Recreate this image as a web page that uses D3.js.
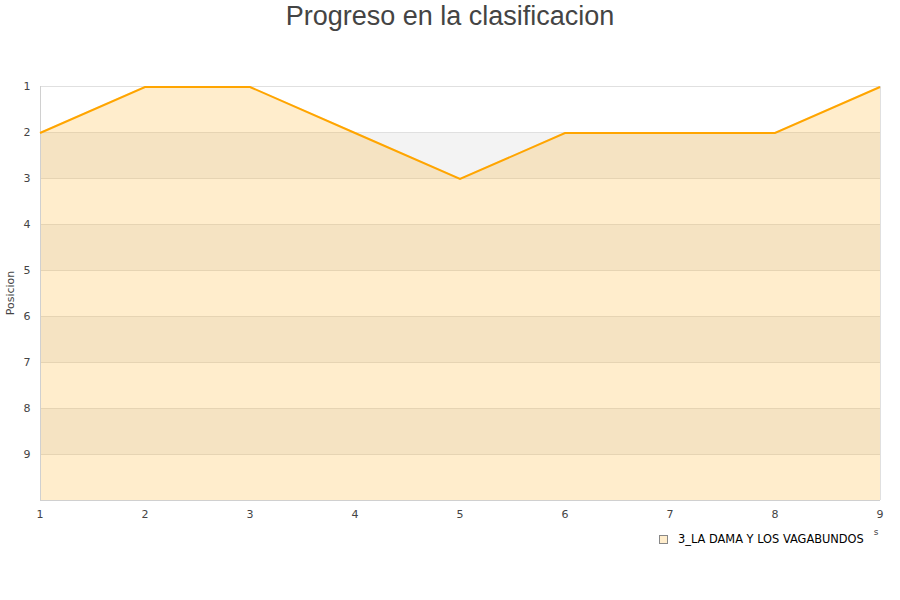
<!DOCTYPE html>
<html><head><meta charset="utf-8">
<script src="https://cdn.jsdelivr.net/npm/d3@7"></script>
<style>body{margin:0;background:#fff;font-family:"DejaVu Sans",sans-serif;}</style>
</head><body><svg id="c" width="900" height="600"></svg>
<script>
const jornadas = [1,2,3,4,5,6,7,8,9];
const posiciones = [2,1,1,2,3,2,2,2,1];
const yTicks = [1,2,3,4,5,6,7,8,9];
const seriesName = "3_LA DAMA Y LOS VAGABUNDOS";
const title = "Progreso en la clasificacion";
const yTitle = "Posicion";

const svg = d3.select("#c");
const L=40,R=880,T=86,B=500;
const x = d3.scaleLinear().domain([1,9]).range([L,R]);
const y = d3.scaleLinear().domain([1,10]).range([T,B]);

// bands
const bands = [2,4,6,8];
svg.selectAll("rect.band").data(bands).enter().append("rect")
  .attr("x",L).attr("width",R-L).attr("y",d=>y(d)).attr("height",d=>y(d+1)-y(d))
  .attr("fill","#f3f3f3");
// grid
svg.selectAll("line.grid").data(d3.range(1,11)).enter().append("line")
  .attr("x1",L).attr("x2",R).attr("y1",d=>y(d)+0.5).attr("y2",d=>y(d)+0.5)
  .attr("stroke","#e0e0e0").attr("stroke-width",1);

const data = jornadas.map((j,i)=>({j,p:posiciones[i]}));
svg.append("path").datum(data)
  .attr("d",d3.area().x(d=>x(d.j)).y0(y(10)).y1(d=>y(d.p)))
  .attr("fill","rgba(255,165,0,0.2)");
// border
svg.append("line").attr("x1",L+0.5).attr("x2",L+0.5).attr("y1",T).attr("y2",B).attr("stroke","#d0d0d0");
svg.append("line").attr("x1",R+0.5).attr("x2",R+0.5).attr("y1",T).attr("y2",B).attr("stroke","#e0e0e0");
svg.append("line").attr("x1",L).attr("x2",R).attr("y1",B+0.5).attr("y2",B+0.5).attr("stroke","#d0d0d0");

svg.append("path").datum(data)
  .attr("d",d3.line().x(d=>x(d.j)).y(d=>y(d.p)+1))
  .attr("fill","none").attr("stroke","#FFA500").attr("stroke-width",2);

// axis labels
svg.selectAll("text.yt").data(yTicks).enter().append("text")
  .attr("x",27).attr("y",d=>y(d)+4).attr("text-anchor","middle")
  .attr("font-size",11).attr("fill","#444").text(d=>d);
svg.selectAll("text.xt").data(jornadas).enter().append("text")
  .attr("x",d=>x(d)).attr("y",518).attr("text-anchor","middle")
  .attr("font-size",11).attr("fill","#444").text(d=>d);

svg.append("text").attr("x",450).attr("y",25).attr("text-anchor","middle")
  .attr("font-size",27).attr("font-family","'Liberation Sans',Arial,sans-serif").attr("fill","#444").text(title);
svg.append("text").attr("transform","translate(14,293) rotate(-90)").attr("text-anchor","middle")
  .attr("font-size",11).attr("fill","#444").text(yTitle);

svg.append("text").attr("x",876).attr("y",535).attr("text-anchor","middle")
  .attr("font-size",9).attr("fill","#444").text("s");

// legend
svg.append("rect").attr("x",659.5).attr("y",535.5).attr("width",8).attr("height",8)
  .attr("fill","#FFEDCC").attr("stroke","#888");
svg.append("text").attr("x",678).attr("y",543).attr("font-size",11.4).attr("fill","#000").text(seriesName);
</script></body></html>
